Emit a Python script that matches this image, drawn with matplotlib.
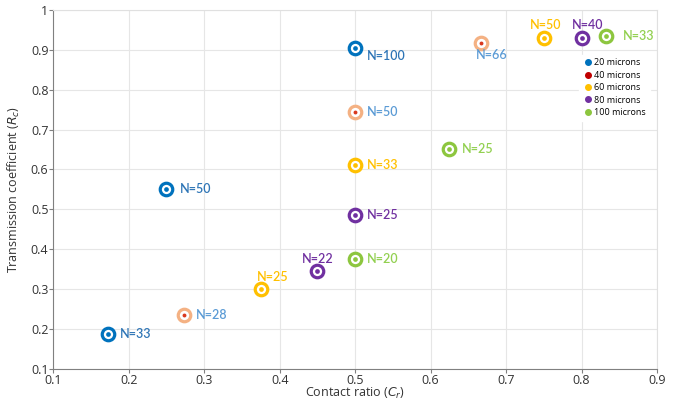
import numpy as np
import matplotlib.pyplot as plt

# data per fibre diameter
groups = ['20 microns', '40 microns', '60 microns', '80 microns', '100 microns']
cr_20 = [0.5, 0.25, 0.172]
rc_20 = [0.905, 0.55, 0.188]
n_20 = ['N=100', 'N=50', 'N=33']
cr_40 = [0.667, 0.5, 0.273]
rc_40 = [0.917, 0.745, 0.235]
n_40 = ['N=66', 'N=50', 'N=28']
cr_60 = [0.75, 0.5, 0.375]
rc_60 = [0.93, 0.612, 0.30]
n_60 = ['N=50', 'N=33', 'N=25']
cr_80 = [0.8, 0.5, 0.45]
rc_80 = [0.93, 0.485, 0.345]
n_80 = ['N=40', 'N=25', 'N=22']
cr_100 = [0.833, 0.625, 0.5]
rc_100 = [0.935, 0.652, 0.375]
n_100 = ['N=33', 'N=25', 'N=20']

ring_cols = ['#0072BD', '#F4B183', '#FFC000', '#7030A0', '#8DC63F']
dot_cols = ['#0072BD', '#D9381E', '#FFC000', '#7030A0', '#8DC63F']
legend_cols = ['#0072BD', '#C00000', '#FFC000', '#7030A0', '#8DC63F']
label_cols = ['#2E75B6', '#5B9BD5', '#FFC000', '#7030A0', '#92D050']

# label offsets in pixels (dx, dy)
offsets = [
    [(12, -8), (13, 0), (12, 0)],
    [(-5, -12), (12, 0), (12, 0)],
    [(-14, 13), (12, 0), (-4, 12)],
    [(-10, 13), (12, 0), (-16, 12)],
    [(16, 0), (12, 0), (12, 0)],
]

xs = [cr_20, cr_40, cr_60, cr_80, cr_100]
ys = [rc_20, rc_40, rc_60, rc_80, rc_100]
ns = [n_20, n_40, n_60, n_80, n_100]

plt.rcParams['font.family'] = ['Open Sans', 'DejaVu Sans']
fig = plt.figure(figsize=(6.83, 4.0), dpi=100)
ax = fig.add_axes([0.078, 0.078, 0.884, 0.897])

for i in range(5):
    ax.plot(xs[i], ys[i], 'o', ms=9, mfc='white', mec=ring_cols[i], mew=2.3,
            ls='none', zorder=3)
    ax.plot(xs[i], ys[i], 'o', ms=2.8 if i == 1 else 3.4, color=dot_cols[i],
            mec='none', ls='none', zorder=4)
    ax.plot([], [], 'o', ms=4, color=legend_cols[i], label=groups[i])
    for x, y, lab, (dx, dy) in zip(xs[i], ys[i], ns[i], offsets[i]):
        ax.annotate(lab, (x, y), xytext=(dx, dy), textcoords='offset pixels',
                    ha='left', va='center', color=label_cols[i], fontsize=9,
                    family=['Lato', 'DejaVu Sans'], fontweight='semibold')

ax.set_xlim(0.1, 0.9)
ax.set_ylim(0.1, 1.0)
ax.set_xticks(np.arange(0.1, 0.91, 0.1))
ax.set_yticks(np.arange(0.1, 1.01, 0.1))
ax.set_xticklabels(['0.1', '0.2', '0.3', '0.4', '0.5', '0.6', '0.7', '0.8', '0.9'])
ax.set_yticklabels(['0.1', '0.2', '0.3', '0.4', '0.5', '0.6', '0.7', '0.8', '0.9', '1'])
ax.grid(True, color='#e6e6e6', lw=0.8)
ax.set_axisbelow(True)
for s in ['top', 'right']:
    ax.spines[s].set_color('#e0e0e0')
for s in ['left', 'bottom']:
    ax.spines[s].set_color('#808080')
ax.tick_params(labelsize=9, length=3, width=0.8, pad=0.5,
               colors='#808080', labelcolor='#333333')
ax.set_xlabel(r'Contact ratio ($C_r$)', fontsize=9, color='#333333')
ax.set_ylabel(r'Transmission coefficient ($R_c$)', fontsize=9, color='#333333')
ax.xaxis.set_label_coords(0.5, -0.049)
ax.yaxis.set_label_coords(-0.052, 0.5)

leg = ax.legend(loc='upper right', bbox_to_anchor=(0.995, 0.888), fontsize=6.5,
                frameon=True, handletextpad=0.1, handlelength=1.2,
                labelspacing=0.38, borderpad=0.4)
leg.get_frame().set_edgecolor('white')
leg.get_frame().set_facecolor('white')
leg.get_frame().set_alpha(1)

plt.savefig('out.png', dpi=100)
plt.close()
